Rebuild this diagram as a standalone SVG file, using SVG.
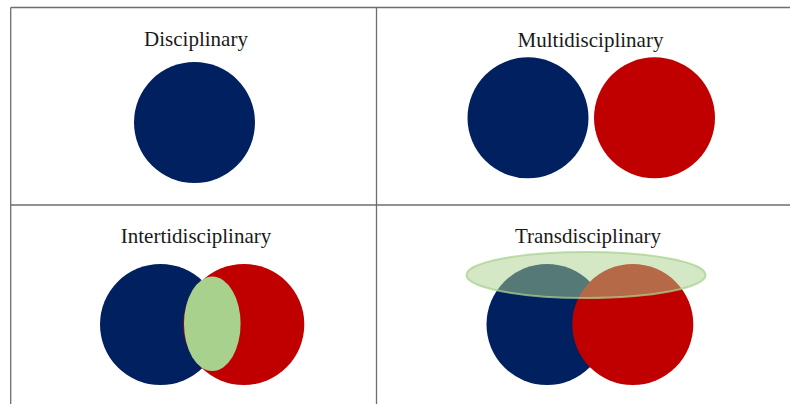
<svg xmlns="http://www.w3.org/2000/svg" width="790" height="404" viewBox="0 0 790 404">
<style>
.grid{stroke:#6e6e6e;stroke-width:1.3;fill:none}
.title{font-family:"Liberation Serif","Times New Roman",serif;font-size:21px;fill:#1a1a1a;text-anchor:middle}
.blue{fill:#002060}
.red{fill:#C00000}
.green{fill:#A9D18E}
.halo{fill:#A9D18E;fill-opacity:0.5;stroke:#A9D18E;stroke-opacity:0.75;stroke-width:2}
</style>
<rect width="790" height="404" fill="#ffffff"/>
<g id="connectors">
<line class="grid" x1="10.7" y1="7.5" x2="790" y2="7.5"/>
<line class="grid" x1="10.7" y1="205" x2="790" y2="205"/>
<line class="grid" x1="10.7" y1="7.5" x2="10.7" y2="404"/>
<line class="grid" x1="376.5" y1="7.5" x2="376.5" y2="404"/>
</g>
<g id="disciplinary">
<text class="title" x="196" y="46">Disciplinary</text>
<circle class="blue" cx="194.5" cy="122.5" r="60.5"/>
</g>
<g id="multidisciplinary">
<text class="title" x="590.5" y="46.5">Multidisciplinary</text>
<circle class="blue" cx="528" cy="117.8" r="60.5"/>
<circle class="red" cx="654.5" cy="117.8" r="60.5"/>
</g>
<g id="intertidisciplinary">
<text class="title" x="196" y="243.3">Intertidisciplinary</text>
<circle class="blue" cx="160.5" cy="324.5" r="60.5"/>
<circle class="red" cx="243.8" cy="324.5" r="60.5"/>
<ellipse class="green" cx="212.3" cy="323.8" rx="28.3" ry="47.2"/>
</g>
<g id="transdisciplinary">
<text class="title" x="588" y="243.3">Transdisciplinary</text>
<circle class="blue" cx="547" cy="324.5" r="60.5"/>
<circle class="red" cx="632.8" cy="324.5" r="60.5"/>
<ellipse class="halo" cx="586" cy="275" rx="119.5" ry="23"/>
</g>
</svg>
